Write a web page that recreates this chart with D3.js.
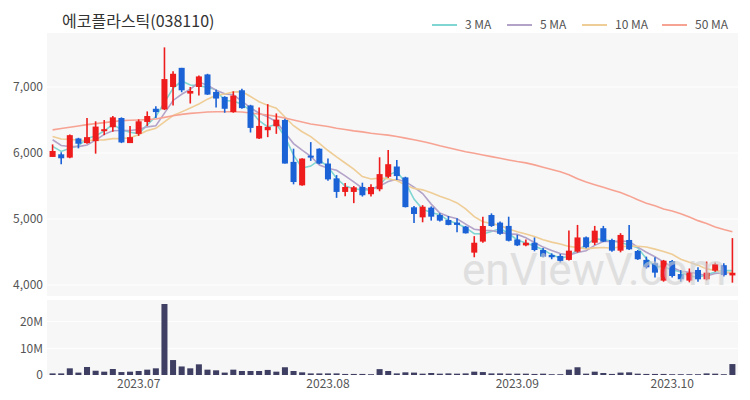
<!DOCTYPE html>
<html>
<head>
<meta charset="utf-8">
<script src="https://cdn.jsdelivr.net/npm/d3@7"></script>
<style>
  body { margin: 0; background: #fff; }
  text { font-family: "Noto Sans CJK KR", "Noto Sans", sans-serif; }
</style>
</head>
<body>
<svg id="chart" width="750" height="400"></svg>
<script>
const dates = [
  '06-19','06-20','06-21','06-22','06-23','06-26','06-27','06-28','06-29','06-30',
  '07-03','07-04','07-05','07-06','07-07','07-10','07-11','07-12','07-13','07-14',
  '07-17','07-18','07-19','07-20','07-21','07-24','07-25','07-26','07-27','07-28',
  '07-31','08-01','08-02','08-03','08-04','08-07','08-08','08-09','08-10','08-11',
  '08-14','08-16','08-17','08-18','08-21','08-22','08-23','08-24','08-25','08-28',
  '08-29','08-30','08-31','09-01','09-04','09-05','09-06','09-07','09-08','09-11',
  '09-12','09-13','09-14','09-15','09-18','09-19','09-20','09-21','09-22','09-25',
  '09-26','09-27','10-04','10-05','10-06','10-10','10-11','10-12','10-13','10-16'
];
const open = [5940,5980,5930,6220,6150,6180,6330,6390,6530,6150,6290,6470,6670,6660,7000,7290,6900,7000,7190,6925,
  6850,6620,6950,6720,6220,6345,6405,6500,5865,5510,5960,6065,5840,5615,5410,5410,5485,5375,5450,5640,
  5795,5630,5177,5025,5172,5060,4985,4945,4884,4490,4657,5060,4945,4895,4690,4600,4640,4530,4455,4440,
  4380,4505,4722,4640,4860,4682,4520,4682,4515,4380,4330,4066,4363,4166,4066,4227,4086,4217,4300,4145];
const high = [6130,6010,6280,6230,6530,6480,6500,6560,6540,6410,6510,6630,6710,7600,7240,7290,7000,7175,7200,6960,
  6860,6935,6975,6730,6690,6740,6600,6520,6065,5920,6165,6070,5915,5665,5545,5500,5550,5525,5935,6045,
  5895,5640,5197,5210,5190,5085,5045,5010,4895,4740,5035,5085,4960,5035,4760,4690,4720,4560,4480,4470,
  4825,4910,4735,4895,4895,4700,4785,4910,4530,4430,4420,4380,4380,4225,4250,4270,4355,4340,4330,4710];
const low = [5940,5830,5920,6070,6140,5990,6270,6320,6150,6150,6260,6410,6530,6650,6720,6920,6750,6870,6880,6690,
  6610,6610,6670,6310,6210,6240,6290,5840,5525,5505,5880,5830,5580,5320,5345,5240,5340,5340,5420,5620,
  5590,5175,4940,4950,4975,4960,4905,4800,4780,4420,4640,4880,4760,4660,4590,4585,4510,4420,4390,4340,
  4370,4490,4555,4605,4650,4505,4495,4530,4380,4250,4115,4050,4115,4050,4040,4050,4070,4200,4130,4035];
const close = [6030,5920,6270,6140,6240,6400,6360,6540,6160,6240,6480,6560,6620,7120,7200,6950,6940,7160,6885,6825,
  6670,6870,6680,6380,6410,6395,6505,5840,5560,5915,5930,5840,5600,5410,5485,5480,5360,5485,5680,5830,
  5650,5180,5076,5186,5035,4975,4910,4910,4783,4640,4894,4894,4775,4670,4600,4640,4530,4430,4420,4365,
  4520,4720,4571,4823,4657,4520,4758,4540,4390,4268,4187,4368,4136,4086,4187,4086,4187,4318,4150,4185];
// closes before the visible window (only feed the short moving averages)
const earlyCloses = [6300,6320,6280,6300,6300,6350,6350,6150,6120];
const volume = [0.6,0.6,2.5,0.9,3.0,1.6,1.25,2.25,1.1,1.25,1.5,2.0,2.5,26.6,5.6,3.2,2.5,4.0,2.0,1.75,
  0.9,2.0,1.5,1.5,1.5,1.9,1.25,2.9,1.5,1.0,0.6,0.6,0.6,0.6,0.4,0.4,0.4,0.3,2.2,1.5,
  0.6,1.0,0.9,0.5,0.75,0.5,0.6,0.5,0.6,1.25,1.1,0.6,0.6,0.5,0.5,0.5,0.4,0.5,0.3,0.3,
  2.0,2.9,0.5,1.25,0.75,0.4,0.9,1.0,0.5,0.4,0.4,0.4,0.3,0.3,0.3,0.3,0.6,0.5,0.3,4.1];
const ma50 = [6350,6370,6390,6410,6430,6445,6460,6475,6490,6495,6500,6505,6515,6540,6565,6585,6600,6610,6620,6625,
  6625,6625,6620,6605,6590,6575,6555,6530,6500,6470,6440,6420,6400,6375,6355,6335,6320,6300,6285,6270,
  6250,6225,6200,6175,6145,6110,6080,6050,6020,5995,5970,5945,5920,5895,5870,5850,5820,5785,5750,5715,
  5670,5610,5560,5520,5480,5440,5400,5350,5290,5240,5200,5150,5120,5080,5030,4975,4930,4880,4840,4805];
const priceTicks = [4000, 5000, 6000, 7000];
const volumeTicks = [0, 10, 20];
const tickDates = ['07-03', '08-02', '09-04', '10-04'];
const tickLabels = ['2023.07', '2023.08', '2023.09', '2023.10'];
const maSeries = [
  { name: '3 MA', n: 3, color: '#7fd6d2' },
  { name: '5 MA', n: 5, color: '#b3a3c9' },
  { name: '10 MA', n: 10, color: '#efcd96' },
  { name: '50 MA', n: 50, color: '#f7a393' },
];

function drawChart() {
  const svg = d3.select('#chart');
  const left = 47, right = 738;
  const mainTop = 33, mainBottom = 296;
  const volTop = 300, volBottom = 375;

  const x = d3.scaleBand().domain(dates).range([left, right]).padding(0.3);
  const y = d3.scaleLinear().domain([3833, 7818]).range([mainBottom, mainTop]);
  const yv = d3.scaleLinear().domain([0, 28.1]).range([volBottom, volTop]);
  const cx = (d) => x(d) + x.bandwidth() / 2;

  svg.append('rect').attr('x', left).attr('y', mainTop).attr('width', right - left)
    .attr('height', mainBottom - mainTop).attr('fill', '#f7f7f7');
  svg.append('rect').attr('x', left).attr('y', volTop).attr('width', right - left)
    .attr('height', volBottom - volTop).attr('fill', '#f7f7f7');

  // gridlines
  svg.append('g').selectAll('line').data(priceTicks).enter().append('line')
    .attr('x1', left).attr('x2', right).attr('y1', (d) => y(d)).attr('y2', (d) => y(d))
    .attr('stroke', '#fff').attr('stroke-width', 1);
  svg.append('g').selectAll('line').data(volumeTicks.slice(1)).enter().append('line')
    .attr('x1', left).attr('x2', right).attr('y1', (d) => yv(d)).attr('y2', (d) => yv(d))
    .attr('stroke', '#fff').attr('stroke-width', 1);

  // axes
  const yAxis = svg.append('g').attr('transform', `translate(${left},0)`)
    .call(d3.axisLeft(y).tickValues(priceTicks).tickFormat(d3.format(',')).tickSize(0).tickPadding(4));
  const vAxis = svg.append('g').attr('transform', `translate(${left},0)`)
    .call(d3.axisLeft(yv).tickValues(volumeTicks).tickFormat((d) => (d ? d + 'M' : '0')).tickSize(0).tickPadding(4));
  const xAxis = svg.append('g').attr('transform', `translate(0,${volBottom})`)
    .call(d3.axisBottom(x).tickValues(tickDates).tickFormat((d, i) => tickLabels[i]).tickSize(0).tickPadding(4));
  [yAxis, vAxis, xAxis].forEach((g) => {
    g.select('.domain').remove();
    g.selectAll('text').attr('fill', '#555').attr('font-size', 12);
  });

  // moving averages
  const allCloses = earlyCloses.concat(close);
  const off = earlyCloses.length;
  maSeries.forEach((s) => {
    const vals = s.n === 50 ? ma50 : close.map((c, i) => d3.mean(allCloses.slice(i + off - s.n + 1, i + off + 1)));
    svg.append('path')
      .datum(vals)
      .attr('fill', 'none')
      .attr('stroke', s.color)
      .attr('stroke-width', 1.6)
      .attr('d', d3.line().x((d, i) => cx(dates[i])).y((d) => y(d)));
  });

  // candles
  const candles = dates.map((d, i) => ({ date: d, o: open[i], h: high[i], l: low[i], c: close[i], v: volume[i] }));
  const color = (d) => (d.c >= d.o ? '#ee1c1c' : '#1a62d6');
  const candle = svg.append('g').selectAll('g.candle').data(candles).enter().append('g').classed('candle', true);
  candle.append('line')
    .attr('x1', (d) => cx(d.date)).attr('x2', (d) => cx(d.date))
    .attr('y1', (d) => y(d.h)).attr('y2', (d) => y(d.l))
    .attr('stroke', color).attr('stroke-width', 1.6);
  candle.append('rect')
    .attr('x', (d) => x(d.date)).attr('width', x.bandwidth())
    .attr('y', (d) => y(Math.max(d.o, d.c)))
    .attr('height', (d) => Math.max(1.5, Math.abs(y(d.o) - y(d.c))))
    .attr('fill', color);

  // volume
  svg.append('g').selectAll('rect').data(candles).enter().append('rect')
    .attr('x', (d) => x(d.date)).attr('width', x.bandwidth())
    .attr('y', (d) => yv(d.v)).attr('height', (d) => yv(0) - yv(d.v))
    .attr('fill', '#3e3f63');

  // watermark
  svg.append('text').text('enViewV.com')
    .attr('x', 462).attr('y', 285)
    .attr('font-size', 44).attr('fill', '#d0d0d0').attr('opacity', 0.6)
    .style('font-family', 'Roboto, sans-serif');

  // title
  svg.append('text').text('에코플라스틱(038110)')
    .attr('x', 62).attr('y', 27).attr('font-size', 16).attr('fill', '#333');

  // legend
  const legendX = [432, 507, 582, 662];
  const legend = svg.append('g').selectAll('g').data(maSeries).enter().append('g')
    .attr('transform', (d, i) => `translate(${legendX[i]},25)`);
  legend.append('line').attr('x1', 0).attr('x2', 25).attr('y1', 0).attr('y2', 0)
    .attr('stroke', (d) => d.color).attr('stroke-width', 2);
  legend.append('text').text((d) => d.name).attr('x', 33).attr('y', 4)
    .attr('font-size', 12).attr('fill', '#555');
}

drawChart();
</script>
</body>
</html>
